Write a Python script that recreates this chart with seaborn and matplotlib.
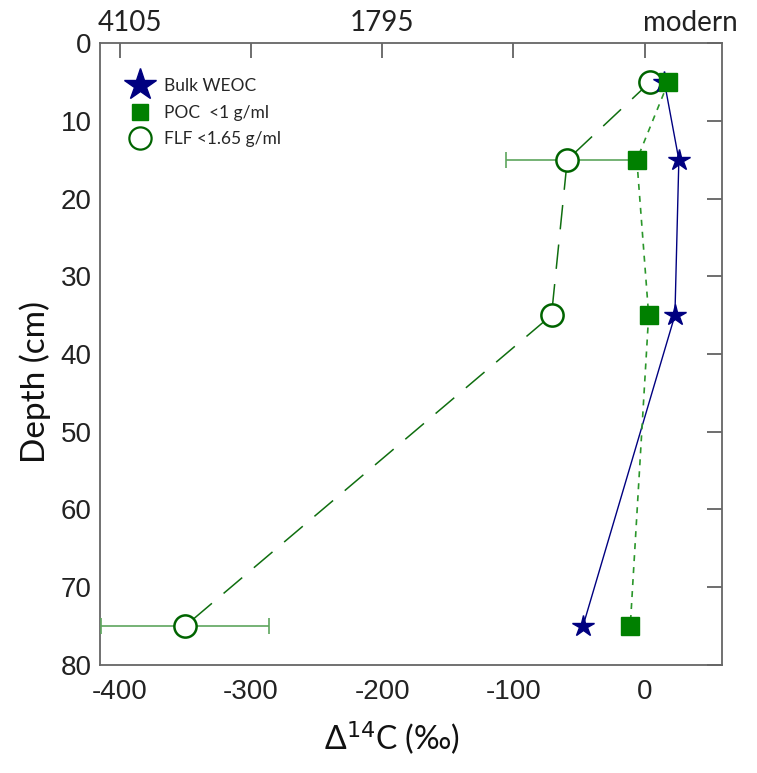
import numpy as np
import pandas as pd
import matplotlib
matplotlib.use("Agg")
import matplotlib.pyplot as plt
from matplotlib.lines import Line2D
import seaborn as sns

# ---- data ----
depth = [5, 15, 35, 75]
bulk_weoc = [15, 26, 23, -47]
poc = [18, -6, 3, -11]
flf = [4, -59, -71, -350]
flf_err = [3, 47, 3, 64]

top_labels = ["4105", "1795", "modern"]

sns.set_theme(style="white")
plt.rcParams["font.family"] = ["Liberation Sans", "DejaVu Sans"]
plt.rcParams["axes.unicode_minus"] = False

df = pd.DataFrame({"depth": depth, "bulk": bulk_weoc, "poc": poc, "flf": flf})

fig = plt.figure(figsize=(7.57, 7.73), dpi=100)
ax = fig.add_axes([0.132, 0.140, 0.822, 0.804])

# lines
sns.lineplot(data=df, x="bulk", y="depth", orient="y", ax=ax, color="#000080",
             linewidth=1.0, zorder=2)
sns.lineplot(data=df, x="poc", y="depth", orient="y", ax=ax, color="#2a962a",
             linewidth=1.2, zorder=2)
ax.lines[-1].set_dashes([3.6, 3.6])
sns.lineplot(data=df, x="flf", y="depth", orient="y", ax=ax, color="#0f6e0f",
             linewidth=1.1, zorder=2)
ax.lines[-1].set_dashes([16, 10])

# error bars on FLF
ax.errorbar(flf, depth, xerr=flf_err, fmt="none", ecolor="#5da55d",
            elinewidth=1.2, capsize=6, capthick=1.2, zorder=3)

# markers
ax.plot(flf, depth, "o", ms=16, mfc="white", mec="#006400", mew=1.8, zorder=4)
ax.plot(bulk_weoc, depth, "*", ms=16, color="#000080", mec="#000080", zorder=5)
ax.plot(poc, depth, "s", ms=13, color="#008000", mec="#008000", zorder=6)

ax.set_xlim(-415, 59)
ax.set_ylim(80, 0)
ax.set_xticks([-400, -300, -200, -100, 0])
ax.set_yticks(np.arange(0, 81, 10))
ax.tick_params(axis="both", direction="in", length=11, width=1.2, color="#555555",
               labelsize=20, top=True, right=True, labelcolor="#222222")
ax.tick_params(axis="x", pad=10)
ax.tick_params(axis="y", pad=6)
for s in ax.spines.values():
    s.set_color("#666666")
    s.set_linewidth(1.3)

ax.set_xlabel("Δ$^{14}$C (‰)", fontsize=23, family="Lato", labelpad=14,
              color="#111111")
ax.xaxis.set_label_coords(0.47, -0.088)
ax.set_ylabel("Depth (cm)", fontsize=24, family="Lato", labelpad=6,
              color="#111111")
ax.yaxis.set_label_coords(-0.078, 0.455)

# top labels (age)
for xv, lab in zip([-392, -200, 35], top_labels):
    ax.text(xv, -0.9, lab, fontsize=20, family="Lato", ha="center", va="bottom",
            color="#222222")

handles = [
    Line2D([], [], ls="none", marker="*", ms=24, color="#000080", label="Bulk WEOC"),
    Line2D([], [], ls="none", marker="s", ms=12, color="#008000", label="POC  <1 g/ml"),
    Line2D([], [], ls="none", marker="o", ms=16, mfc="white", mec="#006400", mew=1.6,
           label="FLF <1.65 g/ml"),
]
leg = ax.legend(handles=handles, loc="upper left", frameon=False,
                prop={"family": "Lato", "size": 12.5}, handletextpad=0.4,
                labelspacing=0.6, bbox_to_anchor=(0.0, 0.98), borderpad=0.8)

fig.savefig("out.png", dpi=100)
